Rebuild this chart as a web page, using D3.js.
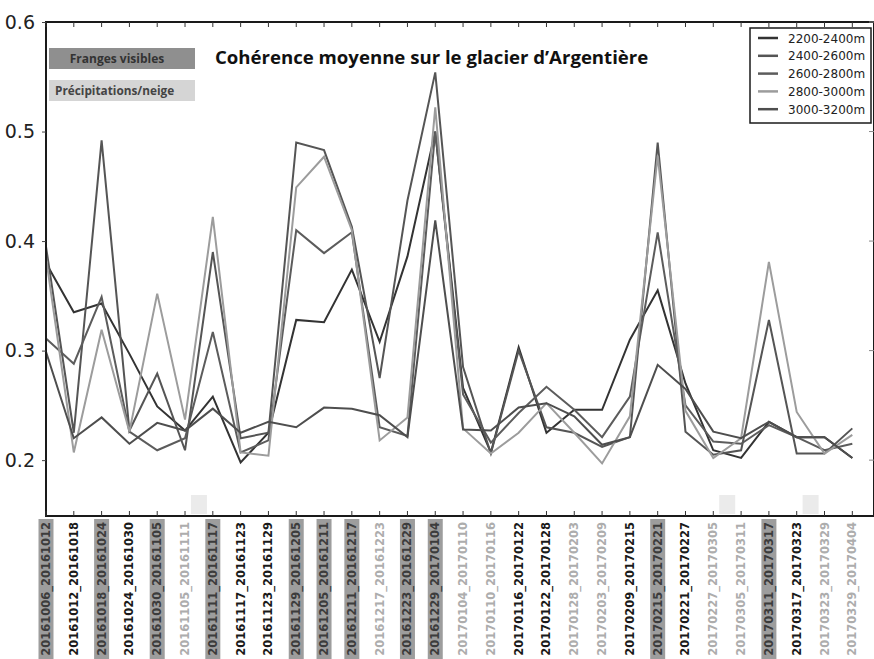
<!DOCTYPE html>
<html>
<head>
<meta charset="utf-8">
<script src="https://cdn.jsdelivr.net/npm/d3@7"></script>
<style>
  body { margin: 0; background: #fff; }
  svg { display: block; }
</style>
</head>
<body>
<div id="viz-container"></div>
<script>
let width = 874;
let height = 659;

let dates = ["20161006_20161012","20161012_20161018","20161018_20161024","20161024_20161030","20161030_20161105",
  "20161105_20161111","20161111_20161117","20161117_20161123","20161123_20161129","20161129_20161205",
  "20161205_20161211","20161211_20161217","20161217_20161223","20161223_20161229","20161229_20170104",
  "20170104_20170110","20170110_20170116","20170116_20170122","20170122_20170128","20170128_20170203",
  "20170203_20170209","20170209_20170215","20170215_20170221","20170221_20170227","20170227_20170305",
  "20170305_20170311","20170311_20170317","20170317_20170323","20170323_20170329","20170329_20170404"];

// f = franges visibles, p = précipitations/neige, n = rien
let dateTypes = ["f","n","f","n","f","p","f","n","n","f","f","f","p","f","f",
  "p","p","n","n","p","p","n","f","n","p","p","f","n","p","p"];

let snowMarks = [5, 24, 27];

let bands = ["2200-2400m","2400-2600m","2600-2800m","2800-3000m","3000-3200m"];

let band2200 = [0.380,0.335,0.343,0.297,0.249,0.227,0.258,0.198,0.225,0.328,0.326,0.374,0.308,0.386,0.500,
  0.266,0.207,0.303,0.225,0.246,0.246,0.310,0.355,0.270,0.209,0.202,0.235,0.221,0.221,0.202];
let band2400 = [0.395,0.225,0.492,0.227,0.279,0.209,0.390,0.220,0.225,0.490,0.483,0.413,0.275,0.437,0.554,
  0.285,0.206,0.300,0.230,0.225,0.212,0.221,0.490,0.226,0.205,0.209,0.328,0.206,0.206,0.229];
let band2600 = [0.311,0.288,0.349,0.226,0.209,0.220,0.317,0.207,0.218,0.410,0.389,0.408,0.230,0.222,0.500,
  0.260,0.216,0.243,0.267,0.246,0.221,0.258,0.408,0.250,0.217,0.215,0.232,0.221,0.209,0.215];
let band2800 = [0.385,0.207,0.319,0.226,0.352,0.237,0.422,0.207,0.204,0.449,0.477,0.410,0.218,0.239,0.522,
  0.229,0.206,0.225,0.252,0.225,0.197,0.240,0.478,0.245,0.202,0.220,0.381,0.244,0.206,0.223];
let band3000 = [0.299,0.220,0.239,0.215,0.234,0.227,0.247,0.225,0.235,0.230,0.248,0.247,0.241,0.221,0.419,
  0.228,0.227,0.248,0.252,0.240,0.214,0.221,0.287,0.265,0.226,0.220,0.235,0.221,0.221,0.202];

let series = [band2200, band2400, band2600, band2800, band3000];
let yTicks = [0.2, 0.3, 0.4, 0.5, 0.6];

let pallet = ["#333333","#555555","#5c5c5c","#9c9c9c","#4e4e4e"];

let plotLeft = 46, plotRight = 874, plotTop = 22, plotBottom = 516;

let viz = d3.select('#viz-container')
  .append('svg')
  .attr('width', width)
  .attr('height', height);

let xScale = d3.scaleLinear().domain([0, 29.78]).range([plotLeft, plotRight]);
let yScale = d3.scaleLinear().domain([0.149, 0.6]).range([plotBottom, plotTop]);

// precip squares above the axis
viz.selectAll('.snow').data(snowMarks).enter()
  .append('rect')
  .attr('x', d => xScale(d + 0.5) - 8)
  .attr('y', plotBottom - 21)
  .attr('width', 16)
  .attr('height', 19)
  .attr('fill', '#ebebeb');

// legend patches top left
viz.append('rect').attr('x', 49).attr('y', 48).attr('width', 146).attr('height', 21).attr('fill', '#8f8f8f');
viz.append('text').text('Franges visibles')
  .attr('x', 117).attr('y', 63)
  .attr('text-anchor', 'middle')
  .attr('font-family', 'Open Sans').attr('font-weight', 'bold').attr('font-size', 12)
  .attr('fill', '#333');
viz.append('rect').attr('x', 49).attr('y', 80).attr('width', 146).attr('height', 21).attr('fill', '#d5d5d5');
viz.append('text').text('Précipitations/neige')
  .attr('x', 55).attr('y', 95)
  .attr('font-family', 'Open Sans').attr('font-weight', 'bold').attr('font-size', 11.8)
  .attr('fill', '#444');

viz.append('text').text('Cohérence moyenne sur le glacier d’Argentière')
  .attr('x', 215).attr('y', 63.5)
  .attr('font-family', 'Open Sans').attr('font-weight', 'bold').attr('font-size', 18.6)
  .attr('fill', '#111');

let line = d3.line()
  .x((d, i) => xScale(i))
  .y(d => yScale(d));

viz.selectAll('.band').data(series).enter()
  .append('path')
  .attr('class', 'band')
  .attr('d', d => line(d))
  .attr('fill', 'none')
  .attr('stroke', (d, i) => pallet[i])
  .attr('stroke-width', 2)
  .attr('stroke-linejoin', 'miter');

// frame
viz.append('rect')
  .attr('x', plotLeft).attr('y', plotTop)
  .attr('width', plotRight - plotLeft).attr('height', plotBottom - plotTop)
  .attr('fill', 'none')
  .attr('stroke', '#1a1a1a')
  .attr('stroke-width', 2);

viz.selectAll('.tickB').data(dates).enter()
  .append('line')
  .attr('x1', (d, i) => xScale(i)).attr('x2', (d, i) => xScale(i))
  .attr('y1', plotBottom).attr('y2', plotBottom - 5)
  .attr('stroke', '#333').attr('stroke-width', 1);
viz.selectAll('.tickT').data(dates).enter()
  .append('line')
  .attr('x1', (d, i) => xScale(i)).attr('x2', (d, i) => xScale(i))
  .attr('y1', plotTop).attr('y2', plotTop + 5)
  .attr('stroke', '#333').attr('stroke-width', 1);

let yAxis = viz.append('g')
  .attr('transform', 'translate(' + plotLeft + ',0)')
  .call(d3.axisLeft(yScale).tickValues(yTicks).tickFormat(d3.format('.1f')).tickSize(4).tickPadding(7));
yAxis.select('.domain').remove();
yAxis.selectAll('text')
  .attr('font-family', 'DejaVu Sans')
  .attr('font-size', 19)
  .attr('fill', '#222');
yAxis.selectAll('line').attr('stroke', '#444');

viz.selectAll('.tickR').data(yTicks).enter()
  .append('line')
  .attr('x1', plotRight - 5).attr('x2', plotRight)
  .attr('y1', d => yScale(d)).attr('y2', d => yScale(d))
  .attr('stroke', '#888');

// date labels with their highlight
viz.selectAll('.labelBg').data(dates).enter()
  .append('rect')
  .attr('x', (d, i) => xScale(i) - 7.5)
  .attr('y', 519)
  .attr('width', 15)
  .attr('height', height - 519)
  .attr('fill', (d, i) => dateTypes[i] == 'f' ? '#9d9d9d' : 'none');

viz.selectAll('.dateText').data(dates).enter()
  .append('text')
  .text(d => d)
  .attr('transform', (d, i) => 'translate(' + (xScale(i) + 4) + ',522) rotate(-90)')
  .attr('text-anchor', 'end')
  .attr('font-family', 'DejaVu Sans')
  .attr('font-weight', 'bold')
  .attr('font-size', 11.5)
  .attr('fill', (d, i) => dateTypes[i] == 'f' ? '#3c3c3c' : (dateTypes[i] == 'p' ? '#adadad' : '#1a1a1a'));

// legend box
let legend = viz.append('g').attr('transform', 'translate(750,28)');
legend.append('rect')
  .attr('width', 121).attr('height', 95)
  .attr('fill', '#fff')
  .attr('stroke', '#1a1a1a')
  .attr('stroke-width', 1.5);
legend.selectAll('.legLine').data(bands).enter()
  .append('line')
  .attr('x1', 8).attr('x2', 28)
  .attr('y1', (d, i) => 10 + i * 17.8).attr('y2', (d, i) => 10 + i * 17.8)
  .attr('stroke', (d, i) => pallet[i])
  .attr('stroke-width', 2.5);
legend.selectAll('.legText').data(bands).enter()
  .append('text')
  .text(d => d)
  .attr('x', 38)
  .attr('y', (d, i) => 14.5 + i * 17.8)
  .attr('font-family', 'DejaVu Sans')
  .attr('font-size', 12)
  .attr('fill', '#222');
</script>
</body>
</html>
